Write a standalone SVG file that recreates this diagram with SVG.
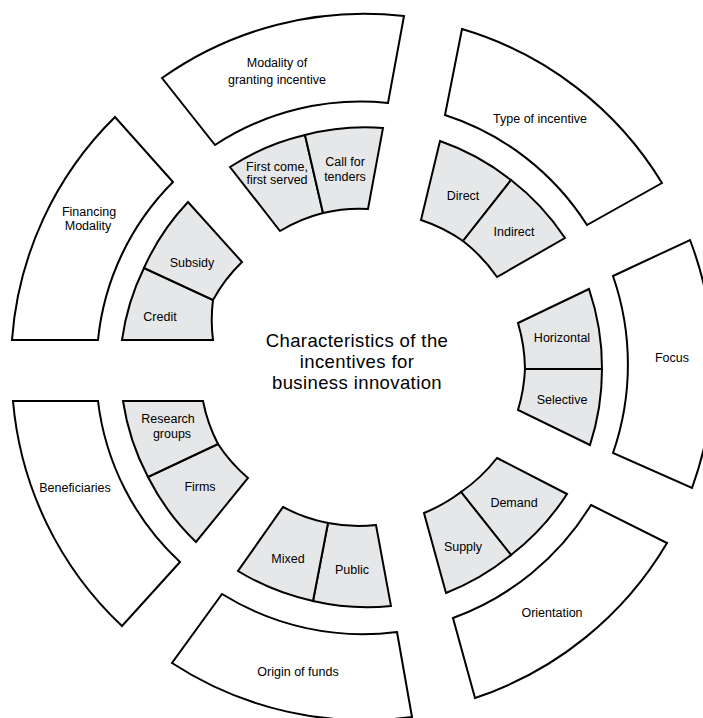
<svg xmlns="http://www.w3.org/2000/svg" width="703" height="718" viewBox="0 0 703 718">
<style>
.o{fill:#ffffff;stroke:#000;stroke-width:2;stroke-linejoin:miter}
.i{fill:#e6e7e8;stroke:#000;stroke-width:2;stroke-linejoin:miter}
text{font-family:"Liberation Sans",Arial,sans-serif;font-size:12.5px;fill:#000;text-anchor:middle}
.t{font-size:18.5px;letter-spacing:0.4px}
</style>
<rect width="703" height="718" fill="#fff"/>
<g id="center"><text class="t" x="357" y="347">Characteristics of the</text><text class="t" x="357" y="368">incentives for</text><text class="t" x="357" y="389">business innovation</text></g>
<g id="modality"><path class="o" d="M162,78 A350,350 0 0 1 404,16 L388,103 A265,265 0 0 0 215,145 Z"/><text x="277" y="67">Modality of</text><text x="277" y="84">granting incentive</text></g>
<g id="type"><path class="o" d="M462,29 A350,350 0 0 1 662,183 L587,225 A265,265 0 0 0 445,115 Z"/><text x="540" y="123">Type of incentive</text></g>
<g id="focus"><path class="o" d="M613,276 L690,240 A355,355 0 0 1 692,488 L613,453 A270,270 0 0 0 613,276 Z"/><text x="672" y="362">Focus</text></g>
<g id="orientation"><path class="o" d="M591,505 L667,543 A352,352 0 0 1 475,698 L453,618 A270,270 0 0 0 591,505 Z"/><text x="552" y="617">Orientation</text></g>
<g id="origin"><path class="o" d="M397,632 L412,717 A352,352 0 0 1 172,663 L222,594 A267,267 0 0 0 397,632 Z"/><text x="298" y="676">Origin of funds</text></g>
<g id="beneficiaries"><path class="o" d="M180,562 L122,626 A350,350 0 0 1 13,401 L98,401 A262,262 0 0 0 180,562 Z"/><text x="75" y="492">Beneficiaries</text></g>
<g id="financing"><path class="o" d="M98,340 L12,340 A348,348 0 0 1 115,117 L173,182 A260,260 0 0 0 98,340 Z"/><text x="89" y="216">Financing</text><text x="88" y="230">Modality</text></g>
<g id="direct"><path class="i" d="M440,141 A242,242 0 0 1 511,180 L463,241 A163,163 0 0 0 421,220 Z"/><text x="463" y="200">Direct</text></g>
<g id="indirect"><path class="i" d="M511,180 A242,242 0 0 1 565,238 L497,277 A163,163 0 0 0 463,241 Z"/><text x="514" y="236">Indirect</text></g>
<g id="horizontal"><path class="i" d="M518,323 L589,289 A245,245 0 0 1 602,369 L525,369 A168,168 0 0 0 518,323 Z"/><text x="562" y="342">Horizontal</text></g>
<g id="selective"><path class="i" d="M525,369 L602,369 A245,245 0 0 1 590,445 L518,410 A168,168 0 0 0 525,369 Z"/><text x="562" y="404">Selective</text></g>
<g id="demand"><path class="i" d="M497,458 L567,494 A244,244 0 0 1 511,555 L461,492 A163,163 0 0 0 497,458 Z"/><text x="514" y="507">Demand</text></g>
<g id="supply"><path class="i" d="M461,492 L511,555 A244,244 0 0 1 446,593 L424,513 A163,163 0 0 0 461,492 Z"/><text x="463" y="551">Supply</text></g>
<g id="public"><path class="i" d="M391,606 A240,240 0 0 1 313,601 L328,523 A160,160 0 0 0 376,525 Z"/><text x="352" y="574">Public</text></g>
<g id="mixed"><path class="i" d="M313,601 A240,240 0 0 1 238,571 L283,507 A160,160 0 0 0 328,523 Z"/><text x="288" y="563">Mixed</text></g>
<g id="firms"><path class="i" d="M196,542 A238,238 0 0 1 148,477 L218,444 A158,158 0 0 0 248,478 Z"/><text x="200" y="491">Firms</text></g>
<g id="research"><path class="i" d="M148,477 A238,238 0 0 1 123,401 L203,401 A158,158 0 0 0 218,444 Z"/><text x="168" y="423">Research</text><text x="172" y="438">groups</text></g>
<g id="credit"><path class="i" d="M122,340 A236,236 0 0 1 144,268 L213,300 A158,158 0 0 0 213,340 Z"/><text x="160" y="321">Credit</text></g>
<g id="subsidy"><path class="i" d="M144,268 A236,236 0 0 1 188,202 L242,262 A158,158 0 0 0 213,300 Z"/><text x="192" y="267">Subsidy</text></g>
<g id="firstcome"><path class="i" d="M230,167 A237,237 0 0 1 305,135 L323,213 A157,157 0 0 0 280,231 Z"/><text x="277" y="171">First come,</text><text x="277" y="184">first served</text></g>
<g id="callfor"><path class="i" d="M305,135 A237,237 0 0 1 383,128 L368,209 A157,157 0 0 0 323,213 Z"/><text x="345" y="166">Call for</text><text x="345" y="181">tenders</text></g>
<g id="connectors"></g>
</svg>
